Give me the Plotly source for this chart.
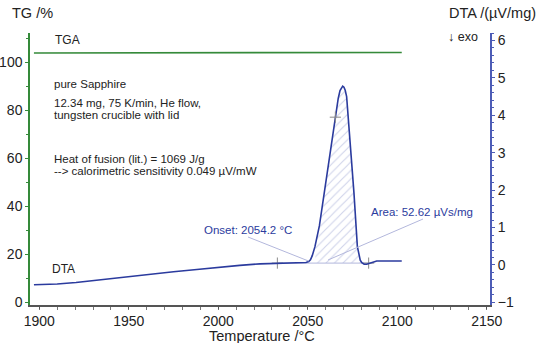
import plotly.graph_objects as go

# ---- data ----
tga_temp = [1897.0, 2000.0, 2102.5]
tga_val = [103.9, 104.0, 104.1]

dta_temp = [1897.0, 1910.0, 1920.5, 1935.0, 1950.0, 1962.0, 1975.0, 1988.0, 2000.4, 2012.0, 2023.3,
            2033.0, 2045.6, 2049.0, 2050.5, 2051.5, 2052.5, 2054.0, 2056.5, 2059.2, 2063.0, 2065.4,
            2067.0, 2068.0, 2068.8, 2069.5, 2070.2, 2070.9, 2071.7, 2072.6, 2074.0, 2075.8, 2077.7, 2078.6,
            2079.3, 2080.2, 2081.5, 2082.9, 2084.5, 2086.5, 2088.5, 2095.0, 2102.5]
dta_val = [-0.53, -0.51, -0.47, -0.39, -0.31, -0.24, -0.18, -0.12, -0.06, -0.01, 0.03,
           0.05, 0.06, 0.065, 0.09, 0.14, 0.25, 0.49, 1.05, 1.92, 3.25, 3.95,
           4.45, 4.66, 4.75, 4.78, 4.75, 4.67, 4.50, 3.95, 3.25, 1.92, 0.49, 0.25,
           0.13, 0.06, 0.02, 0.02, 0.05, 0.09, 0.107, 0.107, 0.107]

onset_temp = 2054.2
area_end_temp = 2080.0
baseline_temp = [2033.0, 2084.0]
baseline_val = [0.05, 0.05]
peak_mark_temp = [2065.4]
peak_mark_val = [3.95]

x_ticks = [1900, 1950, 2000, 2050, 2100, 2150]

# ---- layout geometry (pixels) ----
W, H = 540, 343
L, R, T, B = 30, 50, 33, 38
PW, PH = W - L - R, H - T - B


def px(xp):
    return (xp - L) / PW


def py(yp):
    return (H - B - yp) / PH


FONT = "Liberation Sans"
GREEN = "#358a3a"
BLUE = "#2b3b9e"
AXBLUE = "#4d5cb6"
LAV = "#b3b7dc"
GRAY = "#8a8a8a"
TXT = "#222222"

fig = go.Figure()


def interp(t):
    for i in range(len(dta_temp) - 1):
        if dta_temp[i] <= t <= dta_temp[i + 1]:
            f = (t - dta_temp[i]) / (dta_temp[i + 1] - dta_temp[i])
            return dta_val[i] + f * (dta_val[i + 1] - dta_val[i])
    return dta_val[-1]


hx = [onset_temp, onset_temp]
hy = [baseline_val[0], interp(onset_temp)]
for t, v in zip(dta_temp, dta_val):
    if onset_temp < t < area_end_temp:
        hx.append(t)
        hy.append(v)
hx += [area_end_temp, area_end_temp]
hy += [interp(area_end_temp), baseline_val[0]]

fig.add_trace(go.Scatter(x=hx, y=hy, yaxis="y2", mode="lines", fill="toself",
                         line=dict(width=0, color="rgba(0,0,0,0)"),
                         fillcolor="rgba(255,255,255,0)",
                         fillpattern=dict(shape="/", fgcolor="#9ea6d4", bgcolor="rgba(255,255,255,0)",
                                          size=6, solidity=0.18),
                         hoverinfo="skip", showlegend=False))

# baseline with + markers
fig.add_trace(go.Scatter(x=baseline_temp, y=baseline_val, yaxis="y2", mode="lines",
                         line=dict(color=LAV, width=1), showlegend=False))
fig.add_trace(go.Scatter(x=baseline_temp, y=baseline_val, yaxis="y2", mode="markers",
                         marker=dict(symbol="cross-thin", size=8, line=dict(color=GRAY, width=1)),
                         showlegend=False))

# TGA
fig.add_trace(go.Scatter(x=tga_temp, y=tga_val, mode="lines", line=dict(color=GREEN, width=1.6),
                         showlegend=False))
# DTA
fig.add_trace(go.Scatter(x=dta_temp, y=dta_val, yaxis="y2", mode="lines",
                         line=dict(color=BLUE, width=1.6),
                         showlegend=False))
# peak marker
fig.add_trace(go.Scatter(x=peak_mark_temp, y=peak_mark_val, yaxis="y2", mode="markers",
                         marker=dict(symbol="cross-thin", size=8, line=dict(color=GRAY, width=1)),
                         showlegend=False))

annotations = []


def txt(text, xp, yp, size=11, color=TXT, xanchor="left"):
    annotations.append(dict(text=text, x=px(xp), y=py(yp), xref="paper", yref="paper",
                            xanchor=xanchor, yanchor="middle", showarrow=False,
                            font=dict(size=size, color=color, family=FONT)))


txt("TG /%", 10, 13, 14.5)
txt("DTA /(µV/mg)", 538, 13, 14.5, xanchor="right")
txt("↓ exo", 446, 37, 12.5)
txt("TGA", 53, 40, 12)
txt("DTA", 50, 269, 12)
txt("pure Sapphire", 52, 84, 11.5)
txt("12.34 mg, 75 K/min, He flow,", 52, 103, 11.5)
txt("tungsten crucible with lid", 52, 115, 11.5)
txt("Heat of fusion (lit.) = 1069 J/g", 52, 159, 11.5)
txt("--> calorimetric sensitivity 0.049 µV/mW", 52, 171, 11.5)
txt("Onset: 2054.2 °C", 294, 230, 11.5, BLUE, xanchor="right")
txt("Area: 52.62 µVs/mg", 369, 212, 11.5, BLUE)
txt("Temperature /°C", 262, 336, 14.5, TXT, xanchor="center")

shapes = [
    dict(type="line", xref="paper", yref="paper", x0=px(248), y0=py(237), x1=px(308.5), y1=py(261),
         line=dict(color=LAV, width=1)),
    dict(type="line", xref="paper", yref="paper", x0=px(423), y0=py(219), x1=px(328), y1=py(260),
         line=dict(color=LAV, width=1)),
]

fig.update_layout(
    width=W, height=H, margin=dict(l=L, r=R, t=T, b=B, autoexpand=False),
    paper_bgcolor="white", plot_bgcolor="white",
    font=dict(family=FONT, color=TXT, size=14),
    showlegend=False,
    annotations=annotations, shapes=shapes,
    xaxis=dict(range=[1894.8, 2151.8], tickvals=x_ticks, ticks="outside", ticklen=2,
               tickcolor="#555", showline=True, linecolor="#555", linewidth=1.5,
               showgrid=False, zeroline=False, automargin=False,
               tickfont=dict(size=14, color=TXT, family=FONT),
               minor=dict(dtick=10, ticks="outside", ticklen=3, tickcolor="#777", showgrid=False)),
    yaxis=dict(range=[-1.1, 112.2], dtick=20, ticks="outside", ticklen=3, tickcolor=GREEN,
               showline=True, linecolor=GREEN, linewidth=1.5, showgrid=False, zeroline=False,
               automargin=False, tickfont=dict(size=14, color=TXT, family=FONT),
               minor=dict(dtick=10, ticks="outside", ticklen=2, tickcolor=GREEN, showgrid=False)),
    yaxis2=dict(range=[-1.07, 6.2], dtick=1, overlaying="y", side="right", anchor="x",
                ticks="outside", ticklen=3, tickcolor=AXBLUE, automargin=False,
                showline=True, linecolor=AXBLUE, linewidth=2, showgrid=False, zeroline=False,
                tickfont=dict(size=14, color=TXT, family=FONT),
                minor=dict(dtick=0.2, ticks="outside", ticklen=2, tickcolor=AXBLUE, showgrid=False)),
)

fig.write_html("out.html")
